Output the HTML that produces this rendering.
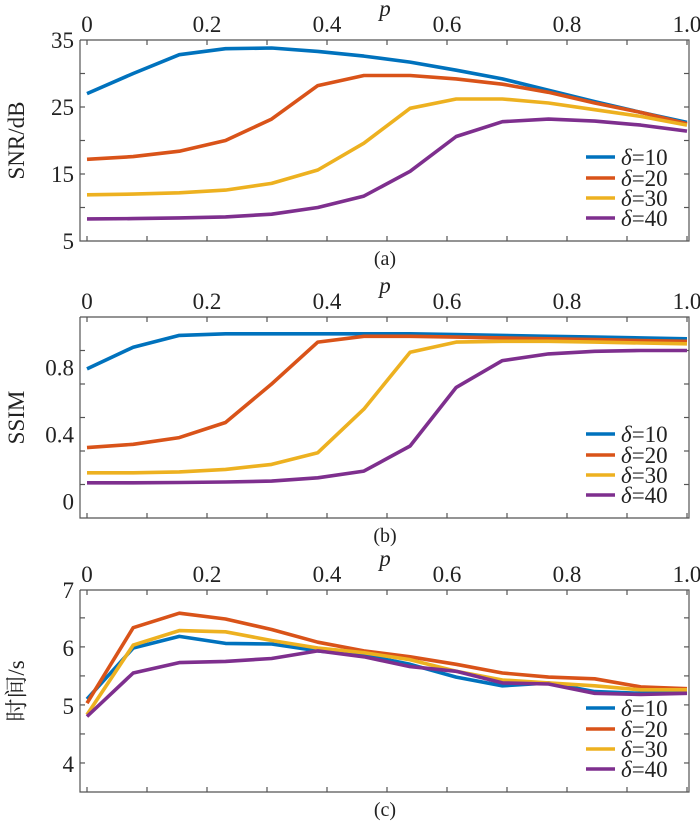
<!DOCTYPE html>
<html><head><meta charset="utf-8"><style>
body{margin:0;background:#fff}
svg text{font-family:"Liberation Serif","Noto Serif CJK SC",serif;fill:#222;font-size:23px}
svg text.cap{font-size:20px}
</style></head><body>
<svg id="c" width="700" height="821" xmlns="http://www.w3.org/2000/svg"></svg>
<script>
const pValues=[0,1,2,3,4,5,6,7,8,9,10,11,12,13].map(i=>i/13);
const seriesLabels=["δ=10","δ=20","δ=30","δ=40"];
const snrD10=[27,30,32.8,33.7,33.8,33.3,32.6,31.7,30.5,29.2,27.5,25.8,24.2,22.7];
const snrD20=[17.2,17.6,18.4,20,23.2,28.2,29.7,29.7,29.2,28.4,27.2,25.6,24.2,22.5];
const snrD30=[11.9,12,12.2,12.6,13.6,15.6,19.6,24.8,26.2,26.2,25.6,24.6,23.6,22.3];
const snrD40=[8.3,8.35,8.45,8.6,9,10,11.7,15.4,20.6,22.8,23.2,22.9,22.3,21.4];
const ssimD10=[0.79,0.92,0.99,1,1,1,1,1,0.995,0.99,0.985,0.98,0.975,0.97];
const ssimD20=[0.32,0.34,0.38,0.47,0.70,0.95,0.985,0.985,0.98,0.975,0.97,0.965,0.96,0.955];
const ssimD30=[0.17,0.17,0.175,0.19,0.22,0.29,0.55,0.89,0.95,0.955,0.955,0.95,0.945,0.94];
const ssimD40=[0.11,0.11,0.112,0.115,0.12,0.14,0.18,0.33,0.68,0.84,0.88,0.895,0.9,0.9];
const timeD10=[5.12,6.0,6.2,6.08,6.07,5.95,5.88,5.72,5.5,5.35,5.4,5.25,5.22,5.25];
const timeD20=[5.05,6.35,6.6,6.5,6.32,6.1,5.95,5.85,5.72,5.57,5.5,5.47,5.33,5.3];
const timeD30=[4.85,6.05,6.3,6.28,6.13,6.0,5.92,5.8,5.6,5.45,5.4,5.35,5.28,5.28];
const timeD40=[4.82,5.57,5.75,5.77,5.82,5.95,5.85,5.68,5.6,5.4,5.38,5.22,5.2,5.22];
const xTickLabels=["0","0.2","0.4","0.6","0.8","1.0"];
const snrTicks=[5,15,25,35];
const ssimTicks=[0,0.4,0.8];
const timeTicks=[4,5,6,7];
const colors=["#0072BD","#D95319","#EDB120","#7E2F8E"];
const svg=document.getElementById('c');
const NS="http://www.w3.org/2000/svg";
function mk(tag,attrs,parent){const e=document.createElementNS(NS,tag);for(const k in attrs)e.setAttribute(k,attrs[k]);(parent||svg).appendChild(e);return e;}
const X0=87,X1=687,BL=80,BR=689;
const xs=v=>X0+v*(X1-X0);
function panel(key,top,bottom,ymin,ymax,minorStep,ticks,ylab,series,tag){
  const g=mk('g',{});
  
  
  const ys=v=>bottom-(v-ymin)/(ymax-ymin)*(bottom-top);
  const ax=mk('path',{d:`M${BL},${top}V${bottom}H${BR}V${top}H${BL}`,fill:'none',stroke:'#555','stroke-width':1.2},g);
  
  
  for(let i=0;i<=10;i++){const x=xs(i/10);
    mk('line',{x1:x,x2:x,y1:top,y2:top+5,stroke:'#555','stroke-width':1.2},g);
    mk('line',{x1:x,x2:x,y1:bottom,y2:bottom-5,stroke:'#555','stroke-width':1.2},g);}
  xTickLabels.forEach((t,i)=>{const tx=mk('text',{x:xs(i*0.2),y:top-8,'text-anchor':'middle'},g);tx.textContent=t;
    
    });
  const pl=mk('text',{x:385,y:top-24,'text-anchor':'middle','font-style':'italic'},g);pl.textContent='p';
  
  
  for(let v=ymin;v<=ymax+1e-9;v+=minorStep){const y=ys(v);if(y<top+2||y>bottom-2)continue;
    mk('line',{x1:BL,x2:BL+5,y1:y,y2:y,stroke:'#555','stroke-width':1.2},g);
    mk('line',{x1:BR,x2:BR-5,y1:y,y2:y,stroke:'#555','stroke-width':1.2},g);}
  ticks.forEach(v=>{const tx=mk('text',{x:BL-6,y:ys(v)+8,'text-anchor':'end'},g);tx.textContent=String(v);
    
    });
  const yl=mk('text',{x:0,y:0,'text-anchor':'middle',transform:`translate(24,${(top+bottom)/2}) rotate(-90)`},g);yl.textContent=ylab;
  
  
  series.forEach((s,k)=>{const d=s.map((v,i)=>(i?'L':'M')+xs(pValues[i]).toFixed(1)+','+ys(v).toFixed(1)).join('');
    const p=mk('path',{d,fill:'none',stroke:colors[k],'stroke-width':3.6,'stroke-linejoin':'round'},g);
    
    });
  const offs=[-84,-63,-43,-23];
  seriesLabels.forEach((lab,k)=>{const y=bottom+offs[k];
    const le=mk('g',{},g);
    
    
    mk('line',{x1:586,x2:615,y1:y,y2:y,stroke:colors[k],'stroke-width':3.6},le);
    const t=mk('text',{x:621,y:y+8},le);
    t.innerHTML='<tspan font-style="italic">δ</tspan>=' + lab.slice(2);});
  const tt=mk('text',{x:385,y:bottom+24,'text-anchor':'middle','class':'cap'},g);tt.textContent=tag;
  
  
}
panel('snr',40,241,5,35,5,snrTicks,'SNR/dB',[snrD10,snrD20,snrD30,snrD40],'(a)');
panel('ssim',317,518,-0.1,1.1,0.2,ssimTicks,'SSIM',[ssimD10,ssimD20,ssimD30,ssimD40],'(b)');
panel('time',590,792,3.52,7,0.5,timeTicks,'时间/s',[timeD10,timeD20,timeD30,timeD40],'(c)');
</script>
</body></html>
